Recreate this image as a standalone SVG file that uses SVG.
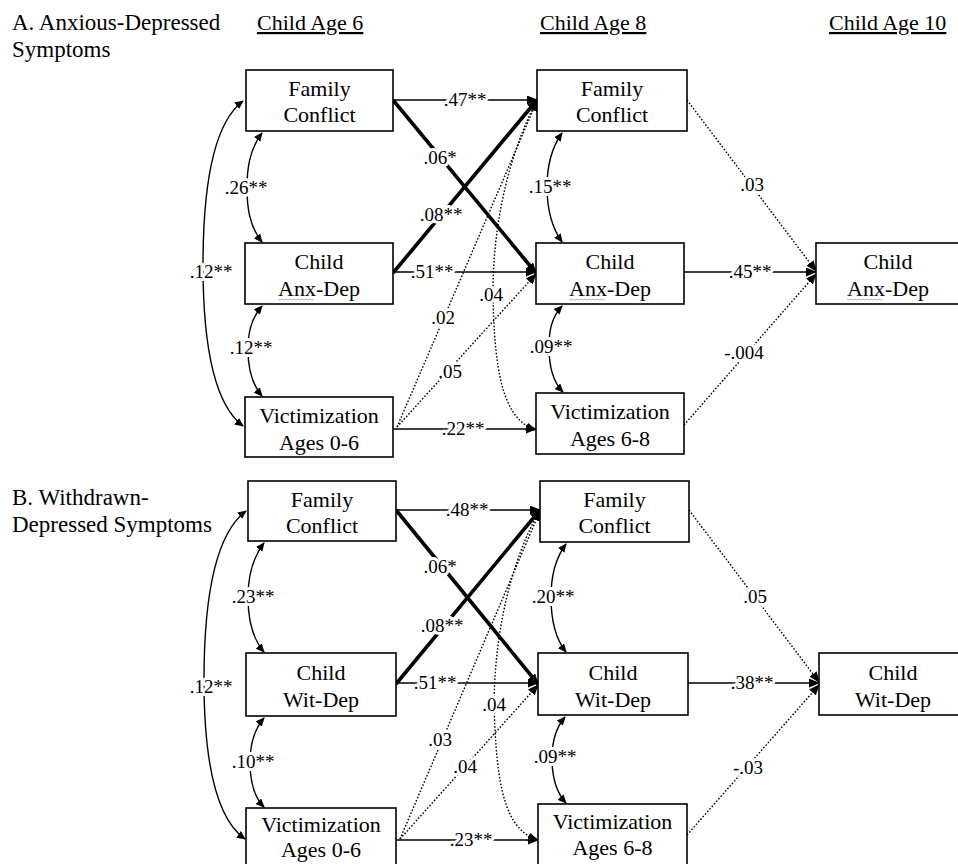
<svg xmlns="http://www.w3.org/2000/svg" width="958" height="864" viewBox="0 0 958 864">
<defs>
<style>
text{font-family:"Liberation Serif","Times New Roman",serif;fill:#000}
.t{font-size:23px}
.h{font-size:22px;text-decoration:underline}
.n{font-size:22px;text-anchor:middle}
.l{font-size:19px;text-anchor:middle;paint-order:stroke;stroke:#fff;stroke-width:6px;stroke-linejoin:round}
rect{fill:#fff;stroke:#000;stroke-width:1.6}
.c path,.c line{fill:none;stroke:#000}
.s{stroke-width:1.5;marker-end:url(#ah)}
.k{stroke-width:3.6;marker-end:url(#ah)}
.d{stroke-width:1.4;stroke-dasharray:1.6 1.8;marker-end:url(#ah)}
.r{stroke-width:1.4;marker-start:url(#as);marker-end:url(#as)}
.sq{fill:none;stroke:#a0a0a0;stroke-width:0.8}
</style>
<marker id="ah" markerUnits="userSpaceOnUse" markerWidth="11" markerHeight="9" refX="10" refY="4.5" orient="auto"><path d="M0,0 L11,4.5 L0,9 z" fill="#000"/></marker>
<marker id="as" markerUnits="userSpaceOnUse" markerWidth="9" markerHeight="8" refX="8" refY="4" orient="auto-start-reverse"><path d="M0,0 L9,4 L0,8 z" fill="#000"/></marker>
</defs>
<rect x="0" y="0" width="958" height="864" style="fill:#fff;stroke:none"/>
<g id="titles">
<text class="t" x="12" y="30">A. Anxious-Depressed</text>
<text class="t" x="12" y="57">Symptoms</text>
<text class="h" x="257" y="30">Child Age 6</text>
<text class="h" x="540" y="30">Child Age 8</text>
<text class="h" x="829" y="30">Child Age 10</text>
<text class="t" x="12" y="505">B. Withdrawn-</text>
<text class="t" x="12" y="532">Depressed Symptoms</text>
</g>
<g id="connectors" class="c">
<!-- Panel A -->
<line class="s" x1="393" y1="100" x2="537" y2="100"/>
<line class="k" x1="393" y1="100" x2="536" y2="273"/>
<line class="k" x1="393" y1="273" x2="537" y2="100"/>
<line class="s" x1="393" y1="272" x2="536" y2="272"/>
<line class="s" x1="393" y1="429" x2="536" y2="429"/>
<line class="d" x1="397" y1="427" x2="537" y2="101"/>
<line class="d" x1="397" y1="427" x2="536" y2="274"/>
<path class="d" d="M535,104 C506,162 493,230 493,292 C494,375 504,420 536,430"/>
<path class="r" d="M262,133 C249,150 247,170 247,188 C247,206 249,226 262,242"/>
<path class="r" d="M262,306 C250,320 248,335 248,350 C248,365 250,382 262,396"/>
<path class="r" d="M243,101 C215,122 203,180 203,265 C203,350 215,405 243,426"/>
<path class="r" d="M562,133 C550,150 547,170 547,187 C547,205 550,225 562,242"/>
<path class="r" d="M562,306 C551,318 549,332 549,347 C549,362 551,380 563,392"/>
<line class="s" x1="684" y1="272" x2="816" y2="272"/>
<line class="d" x1="687" y1="100" x2="816" y2="271"/>
<line class="d" x1="684" y1="425" x2="816" y2="274"/>
<!-- Panel B -->
<line class="s" x1="396" y1="510" x2="540" y2="510"/>
<line class="k" x1="396" y1="510" x2="538" y2="684"/>
<line class="k" x1="396" y1="684" x2="540" y2="510"/>
<line class="s" x1="396" y1="683" x2="538" y2="683"/>
<line class="s" x1="396" y1="840" x2="538" y2="840"/>
<line class="d" x1="400" y1="839" x2="540" y2="511"/>
<line class="d" x1="400" y1="839" x2="538" y2="685"/>
<path class="d" d="M537,515 C507,572 495,640 494,702 C496,790 506,830 538,840"/>
<path class="r" d="M264,543 C251,560 248,580 248,597 C248,615 251,637 264,652"/>
<path class="r" d="M264,718 C252,732 250,748 250,762 C250,778 252,795 264,807"/>
<path class="r" d="M246,511 C218,532 204,590 204,680 C204,770 218,820 245,839"/>
<path class="r" d="M566,544 C554,560 551,580 551,597 C551,615 554,637 566,652"/>
<path class="r" d="M565,717 C554,730 552,745 552,758 C552,772 554,790 566,803"/>
<line class="s" x1="688" y1="683" x2="819" y2="683"/>
<line class="d" x1="689" y1="510" x2="819" y2="682"/>
<line class="d" x1="687" y1="835" x2="819" y2="685"/>
</g>
<g id="labels">
<text class="l" x="465" y="106">.47**</text>
<text class="l" x="440" y="164">.06*</text>
<text class="l" x="441" y="221">.08**</text>
<text class="l" x="432" y="278">.51**</text>
<text class="l" x="463" y="435">.22**</text>
<text class="l" x="443" y="324">.02</text>
<text class="l" x="450" y="378">.05</text>
<text class="l" x="491" y="301">.04</text>
<text class="l" x="246" y="194">.26**</text>
<text class="l" x="251" y="354">.12**</text>
<text class="l" x="211" y="278">.12**</text>
<text class="l" x="550" y="193">.15**</text>
<text class="l" x="551" y="353">.09**</text>
<text class="l" x="750" y="278">.45**</text>
<text class="l" x="752" y="191">.03</text>
<text class="l" x="744" y="359">-.004</text>
<text class="l" x="467" y="516">.48**</text>
<text class="l" x="440" y="573">.06*</text>
<text class="l" x="442" y="632">.08**</text>
<text class="l" x="435" y="689">.51**</text>
<text class="l" x="471" y="846">.23**</text>
<text class="l" x="440" y="746">.03</text>
<text class="l" x="465" y="773">.04</text>
<text class="l" x="494" y="711">.04</text>
<text class="l" x="253" y="603">.23**</text>
<text class="l" x="253" y="768">.10**</text>
<text class="l" x="211" y="693">.12**</text>
<text class="l" x="553" y="603">.20**</text>
<text class="l" x="555" y="763">.09**</text>
<text class="l" x="752" y="689">.38**</text>
<text class="l" x="755" y="603">.05</text>
<text class="l" x="748" y="774">-.03</text>
</g>
<g id="fc6"><rect x="246" y="70" width="147" height="61"/><text class="n" x="319.5" y="96">Family</text><text class="n" x="319.5" y="122">Conflict</text></g>
<g id="anx6"><rect x="245" y="243" width="148" height="61"/><text class="n" x="319" y="269">Child</text><text class="n" x="319" y="296">Anx-Dep</text><path class="sq" d="M278,299 l2,1.2 l2,-1.2 l2,1.2 l2,-1.2 l2,1.2 l2,-1.2 l2,1.2 l2,-1.2 l2,1.2 l2,-1.2 l2,1.2 l2,-1.2 l2,1.2 l2,-1.2 l2,1.2 l2,-1.2 l2,1.2 l2,-1.2"/></g>
<g id="vic6"><rect x="245" y="397" width="148" height="60"/><text class="n" x="319" y="423">Victimization</text><text class="n" x="319" y="450">Ages 0-6</text></g>
<g id="fc8"><rect x="537" y="70" width="150" height="61"/><text class="n" x="612" y="96">Family</text><text class="n" x="612" y="122">Conflict</text></g>
<g id="anx8"><rect x="536" y="243" width="148" height="61"/><text class="n" x="610" y="269">Child</text><text class="n" x="610" y="296">Anx-Dep</text><path class="sq" d="M569,299 l2,1.2 l2,-1.2 l2,1.2 l2,-1.2 l2,1.2 l2,-1.2 l2,1.2 l2,-1.2 l2,1.2 l2,-1.2 l2,1.2 l2,-1.2 l2,1.2 l2,-1.2 l2,1.2 l2,-1.2 l2,1.2 l2,-1.2"/></g>
<g id="vic8"><rect x="536" y="393" width="148" height="61"/><text class="n" x="610" y="419">Victimization</text><text class="n" x="610" y="446">Ages 6-8</text></g>
<g id="anx10"><rect x="816" y="243" width="150" height="61"/><text class="n" x="888" y="269">Child</text><text class="n" x="888" y="296">Anx-Dep</text><path class="sq" d="M847,299 l2,1.2 l2,-1.2 l2,1.2 l2,-1.2 l2,1.2 l2,-1.2 l2,1.2 l2,-1.2 l2,1.2 l2,-1.2 l2,1.2 l2,-1.2 l2,1.2 l2,-1.2 l2,1.2 l2,-1.2 l2,1.2 l2,-1.2"/></g>
<g id="fc6b"><rect x="248" y="481" width="148" height="60"/><text class="n" x="322" y="507">Family</text><text class="n" x="322" y="533">Conflict</text></g>
<g id="wit6"><rect x="246" y="653" width="150" height="63"/><text class="n" x="321" y="680">Child</text><text class="n" x="321" y="707">Wit-Dep</text></g>
<g id="vic6b"><rect x="246" y="808" width="150" height="61"/><text class="n" x="321" y="832">Victimization</text><text class="n" x="321" y="857">Ages 0-6</text></g>
<g id="fc8b"><rect x="540" y="481" width="149" height="61"/><text class="n" x="614.5" y="507">Family</text><text class="n" x="614.5" y="533">Conflict</text></g>
<g id="wit8"><rect x="538" y="653" width="150" height="62"/><text class="n" x="613" y="680">Child</text><text class="n" x="613" y="707">Wit-Dep</text></g>
<g id="vic8b"><rect x="538" y="804" width="149" height="61"/><text class="n" x="612.5" y="829">Victimization</text><text class="n" x="612.5" y="855">Ages 6-8</text></g>
<g id="wit10"><rect x="819" y="653" width="148" height="62"/><text class="n" x="893" y="680">Child</text><text class="n" x="893" y="707">Wit-Dep</text></g>
</svg>
